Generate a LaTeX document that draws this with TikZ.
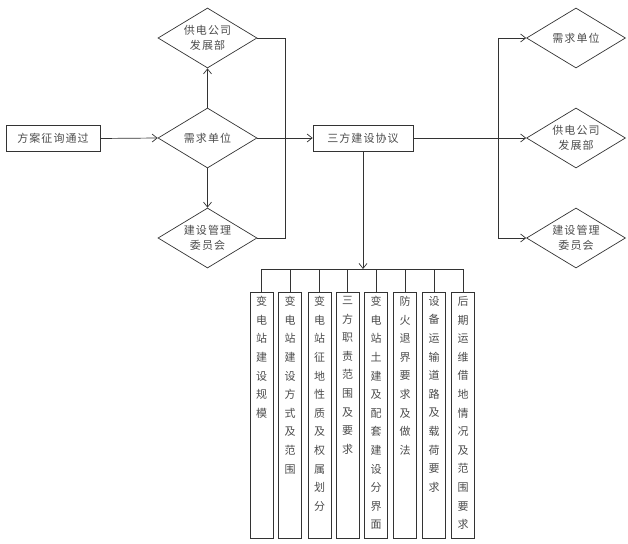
\documentclass[tikz,border=0pt]{standalone}
\usepackage{fontspec}
\setmainfont{Noto Sans CJK SC}[LetterSpace=10]
\usetikzlibrary{shapes.geometric,arrows.meta}
\begin{document}
\begin{tikzpicture}[x=1pt,y=-1pt,
  every node/.style={font=\fontsize{11}{15.5}\selectfont, text=black!70},
  line/.style={draw=black!80, line width=0.7pt},
  arr/.style={line, -{Straight Barb[length=5pt,width=8pt]}},
  rectbox/.style={line, rectangle, minimum width=94pt, minimum height=26pt, inner sep=2pt},
  dia/.style={line, diamond, aspect=1.68, inner sep=0pt, minimum width=99pt, minimum height=60pt, align=center},
  tallbox/.style={line, rectangle, inner xsep=6pt, inner ysep=3pt, anchor=north}
]
\useasboundingbox (0,0) rectangle (628,543);
\newcommand{\vtext}[1]{\parbox[c][240pt][t]{11pt}{\centering\fontsize{11}{18.6}\selectfont\vspace*{1pt}#1}}

\node[rectbox] (start) at (53,138.5) {方案征询通过};
\node[dia] (dL) at (207.5,138) {需求单位};
\node[dia] (dT) at (207.5,38) {供电公司\\发展部};
\node[dia] (dB) at (207.5,238) {建设管理\\委员会};
\node[rectbox, minimum width=100pt] (agr) at (363,138.5) {三方建设协议};
\node[dia] (r1) at (576,38) {需求单位};
\node[dia] (r2) at (576,138) {供电公司\\发展部};
\node[dia] (r3) at (576,238) {建设管理\\委员会};

\node[tallbox] (t1) at (261.5,292) {\vtext{变\\电\\站\\建\\设\\规\\模}};
\node[tallbox] (t2) at (290,292) {\vtext{变\\电\\站\\建\\设\\方\\式\\及\\范\\围}};
\node[tallbox] (t3) at (319.5,292) {\vtext{变\\电\\站\\征\\地\\性\\质\\及\\权\\属\\划\\分}};
\node[tallbox] (t4) at (347.5,292) {\vtext{三\\方\\职\\责\\范\\围\\及\\要\\求}};
\node[tallbox] (t5) at (376,292) {\vtext{变\\电\\站\\土\\建\\及\\配\\套\\建\\设\\分\\界\\面}};
\node[tallbox] (t6) at (405,292) {\vtext{防\\火\\退\\界\\要\\求\\及\\做\\法}};
\node[tallbox] (t7) at (434,292) {\vtext{设\\备\\运\\输\\道\\路\\及\\载\\荷\\要\\求}};
\node[tallbox] (t8) at (463,292) {\vtext{后\\期\\运\\维\\借\\地\\情\\况\\及\\范\\围\\要\\求}};

% left part
\draw[arr] (start.east) -- (dL.west);
\draw[arr] (dL.north) -- (dT.south);
\draw[arr] (dL.south) -- (dB.north);
\coordinate (jT) at (285,38);
\coordinate (jB) at (285,238);
\draw[line] (dT.east) -- (jT) -- (jB) -- (dB.east);
\draw[arr] (dL.east) -- (agr.west |- dL.east);

% right part
\coordinate (rT) at (498,38);
\coordinate (rB) at (498,238);
\draw[arr] (agr.east |- r2.west) -- (r2.west);
\draw[line] (rT) -- (rB);
\draw[arr] (rT) -- (r1.west);
\draw[arr] (rB) -- (r3.west);

% bottom part
\coordinate (bus) at (363,269);
\coordinate (busL) at (t1.north |- bus);
\coordinate (busR) at (t8.north |- bus);
\draw[arr] (agr.south) -- (bus);
\draw[line] (busL) -- (busR);
\foreach \i in {1,...,8} {
  \draw[line] (t\i.north |- bus) -- (t\i.north);
}
\end{tikzpicture}
\end{document}
